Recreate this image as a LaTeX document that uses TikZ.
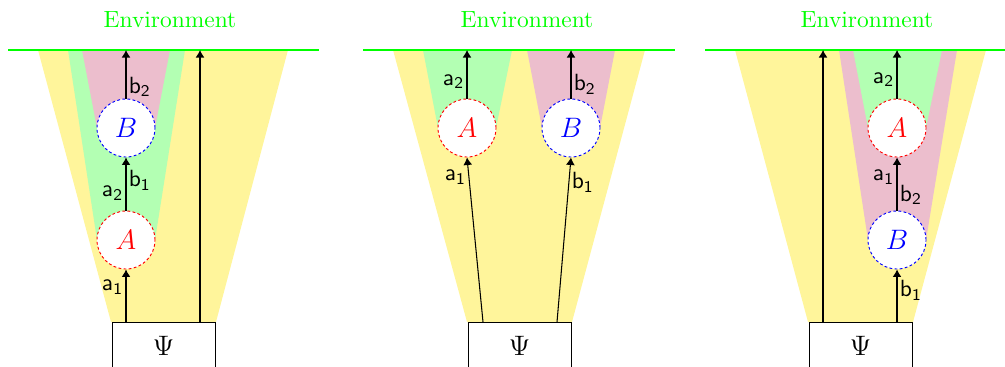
\documentclass[tikz,border=0pt]{standalone}
\usetikzlibrary{arrows.meta}
\definecolor{yel}{RGB}{255,245,155}
\definecolor{grn}{RGB}{179,255,179}
\definecolor{pnk}{RGB}{236,190,205}
\begin{document}
\begin{tikzpicture}[x=0.015cm,y=-0.015cm,
 circ/.style={circle,draw,fill=white,minimum size=0.87cm,inner sep=0pt,dash pattern=on 1.2pt off 1pt,font=\large},
 circA/.style={circ,draw=red,text=red},
 circB/.style={circ,draw=blue,text=blue},
 psibox/.style={draw,fill=white,minimum width=1.545cm,minimum height=0.69cm,anchor=north,inner sep=0pt,font=\large},
 env/.style={text=green},
 envline/.style={green,line width=0.8pt},
 arr/.style={-{Latex[length=3.2pt,width=3.8pt]},line width=0.45pt},
 lab/.style={font=\sffamily,inner sep=1pt},
]
\clip (0,0) rectangle (1005,366);
% ---------------- panel 1 ----------------
\fill[yel] (38,50) -- (288,50) -- (216,322) -- (111,322) -- cycle;
\fill[grn] (68,50) -- (185,50) -- (155,240) -- (97,240) -- cycle;
\fill[pnk] (82,50) -- (170,50) -- (155,128) -- (97,128) -- cycle;
\coordinate (L1a) at (8,50);
\coordinate (L1b) at (319,50);
\draw[envline] (L1a) -- (L1b);
\node[env] (E1) at (170,20) {Environment};
\node[psibox] (P1) at (163.5,322) {$\Psi$};
\node[circA] (A1) at (126,240) {$A$};
\node[circB] (B1) at (126,128) {$B$};
\coordinate (s1a) at (126,322);
\coordinate (s1b) at (200,322);
\coordinate (t1a) at (126,50);
\coordinate (t1b) at (200,50);
\draw[arr] (s1a) -- node[lab,left,pos=0.66] (la11) {a\textsubscript{1}} (A1.south);
\draw[arr] (A1.north) -- node[lab,left,pos=0.33] (la12) {a\textsubscript{2}} node[lab,right,pos=0.57] (lb11) {b\textsubscript{1}} (B1.south);
\draw[arr] (B1.north) -- node[lab,right,pos=0.24] (lb12) {b\textsubscript{2}} (t1a);
\draw[arr] (s1b) -- (t1b);
% ---------------- panel 2 ----------------
\fill[yel] (393,50) -- (645,50) -- (572,322) -- (467,322) -- cycle;
\fill[grn] (423,50) -- (512,50) -- (496,128) -- (438,128) -- cycle;
\fill[pnk] (527,50) -- (615,50) -- (600,128) -- (542,128) -- cycle;
\coordinate (L2a) at (363,50);
\coordinate (L2b) at (675,50);
\draw[envline] (L2a) -- (L2b);
\node[env] (E2) at (527,20) {Environment};
\node[psibox] (P2) at (519.5,322) {$\Psi$};
\node[circA] (A2) at (467,128) {$A$};
\node[circB] (B2) at (571,128) {$B$};
\coordinate (s2a) at (483,322);
\coordinate (s2b) at (557,322);
\coordinate (t2a) at (467,50);
\coordinate (t2b) at (571,50);
\draw[arr] (s2a) -- node[lab,left,pos=0.88] (la21) {a\textsubscript{1}} (A2.south);
\draw[arr] (s2b) -- node[lab,right,pos=0.85] (lb21) {b\textsubscript{1}} (B2.south);
\draw[arr] (A2.north) -- node[lab,left,pos=0.35] (la22) {a\textsubscript{2}} (t2a);
\draw[arr] (B2.north) -- node[lab,right,pos=0.29] (lb22) {b\textsubscript{2}} (t2b);
% ---------------- panel 3 ----------------
\fill[yel] (735,50) -- (986,50) -- (913,322) -- (808,322) -- cycle;
\fill[pnk] (839,50) -- (957,50) -- (926,240) -- (868,240) -- cycle;
\fill[grn] (853,50) -- (942,50) -- (926,128) -- (868,128) -- cycle;
\coordinate (L3a) at (705,50);
\coordinate (L3b) at (1005,50);
\draw[envline] (L3a) -- (L3b);
\node[env] (E3) at (867,20) {Environment};
\node[psibox] (P3) at (860.5,322) {$\Psi$};
\node[circA] (A3) at (897,128) {$A$};
\node[circB] (B3) at (897,240) {$B$};
\coordinate (s3a) at (823,322);
\coordinate (s3b) at (897,322);
\coordinate (t3a) at (823,50);
\coordinate (t3b) at (897,50);
\draw[arr] (s3a) -- (t3a);
\draw[arr] (s3b) -- node[lab,right,pos=0.6] (lb31) {b\textsubscript{1}} (B3.south);
\draw[arr] (B3.north) -- node[lab,right,pos=0.3] (lb32) {b\textsubscript{2}} node[lab,left,pos=0.63] (la31) {a\textsubscript{1}} (A3.south);
\draw[arr] (A3.north) -- node[lab,left,pos=0.39] (la32) {a\textsubscript{2}} (t3b);
\end{tikzpicture}
\end{document}
